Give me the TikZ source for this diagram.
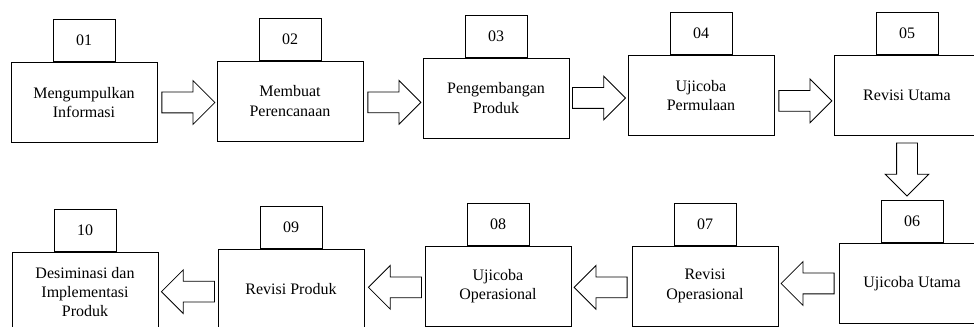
\documentclass[tikz,border=0pt]{standalone}
\usepackage{fontspec}
\setmainfont{Liberation Serif}
\usetikzlibrary{shapes.arrows,positioning,calc}

\begin{document}
\begin{tikzpicture}[
    x=0.75pt, y=0.75pt,
    every node/.style={font=\fontsize{12}{14.5}\selectfont},
    stepbox/.style={rectangle, draw, line width=0.7pt, minimum width=109.5pt, minimum height=60pt, align=center, inner sep=2pt},
    numbox/.style={rectangle, draw, line width=0.7pt, minimum width=46.5pt, minimum height=31.5pt, inner sep=0pt},
    blockarrow/.style={single arrow, draw, line width=0.6pt, inner sep=7.5pt, minimum height=39.75pt, single arrow head extend=8.6pt, single arrow tip angle=90}
]
    \useasboundingbox (0,0) rectangle (974,327);
    \clip (0,0) rectangle (974,327);

    % Row 1
    \node[stepbox] (m1) at (84,224.5) {Mengumpulkan\\Informasi};
    \node[stepbox] (m2) at (290,226) {Membuat\\Perencanaan};
    \node[stepbox] (m3) at (496,229) {Pengembangan\\Produk};
    \node[stepbox] (m4) at (701,231.5) {Ujicoba\\Permulaan};
    \node[stepbox] (m5) at (907,231.5) {Revisi Utama};

    % Row 2
    \node[stepbox] (m6) at (912,43.5) {Ujicoba Utama};
    \node[stepbox] (m7) at (705,41) {Revisi\\Operasional};
    \node[stepbox] (m8) at (498,41) {Ujicoba\\Operasional};
    \node[stepbox] (m9) at (291,38) {Revisi Produk};
    \node[stepbox] (m10) at (85,35) {Desiminasi dan\\Implementasi\\Produk};

    % Numbers
    \node[numbox, above=0pt of m1] (n1) {01};
    \node[numbox, above=0pt of m2] (n2) {02};
    \node[numbox, above=0pt of m3] (n3) {03};
    \node[numbox, above=0pt of m4] (n4) {04};
    \node[numbox, above=0pt of m5] (n5) {05};
    \node[numbox, above=0pt of m6] (n6) {06};
    \node[numbox, above=0pt of m7] (n7) {07};
    \node[numbox, above=0pt of m8] (n8) {08};
    \node[numbox, above=0pt of m9] (n9) {09};
    \node[numbox, above=0pt of m10] (n10) {10};

    % Arrows
    \node[blockarrow, right=3pt of m1] (a12) {};
    \node[blockarrow, right=3pt of m2, yshift=-1pt] (a23) {};
    \node[blockarrow, right=2pt of m3] (a34) {};
    \node[blockarrow, right=3pt of m4, yshift=-4pt] (a45) {};
    \node[blockarrow, shape border rotate=270, below=5pt of m5] (a56) {};
    \node[blockarrow, shape border rotate=180, left=3pt of m6] (a67) {};
    \node[blockarrow, shape border rotate=180, left=3pt of m7, yshift=-1pt] (a78) {};
    \node[blockarrow, shape border rotate=180, left=2pt of m8, yshift=-1pt] (a89) {};
    \node[blockarrow, shape border rotate=180, left=2pt of m9, yshift=-2pt] (a910) {};
\end{tikzpicture}
\end{document}
